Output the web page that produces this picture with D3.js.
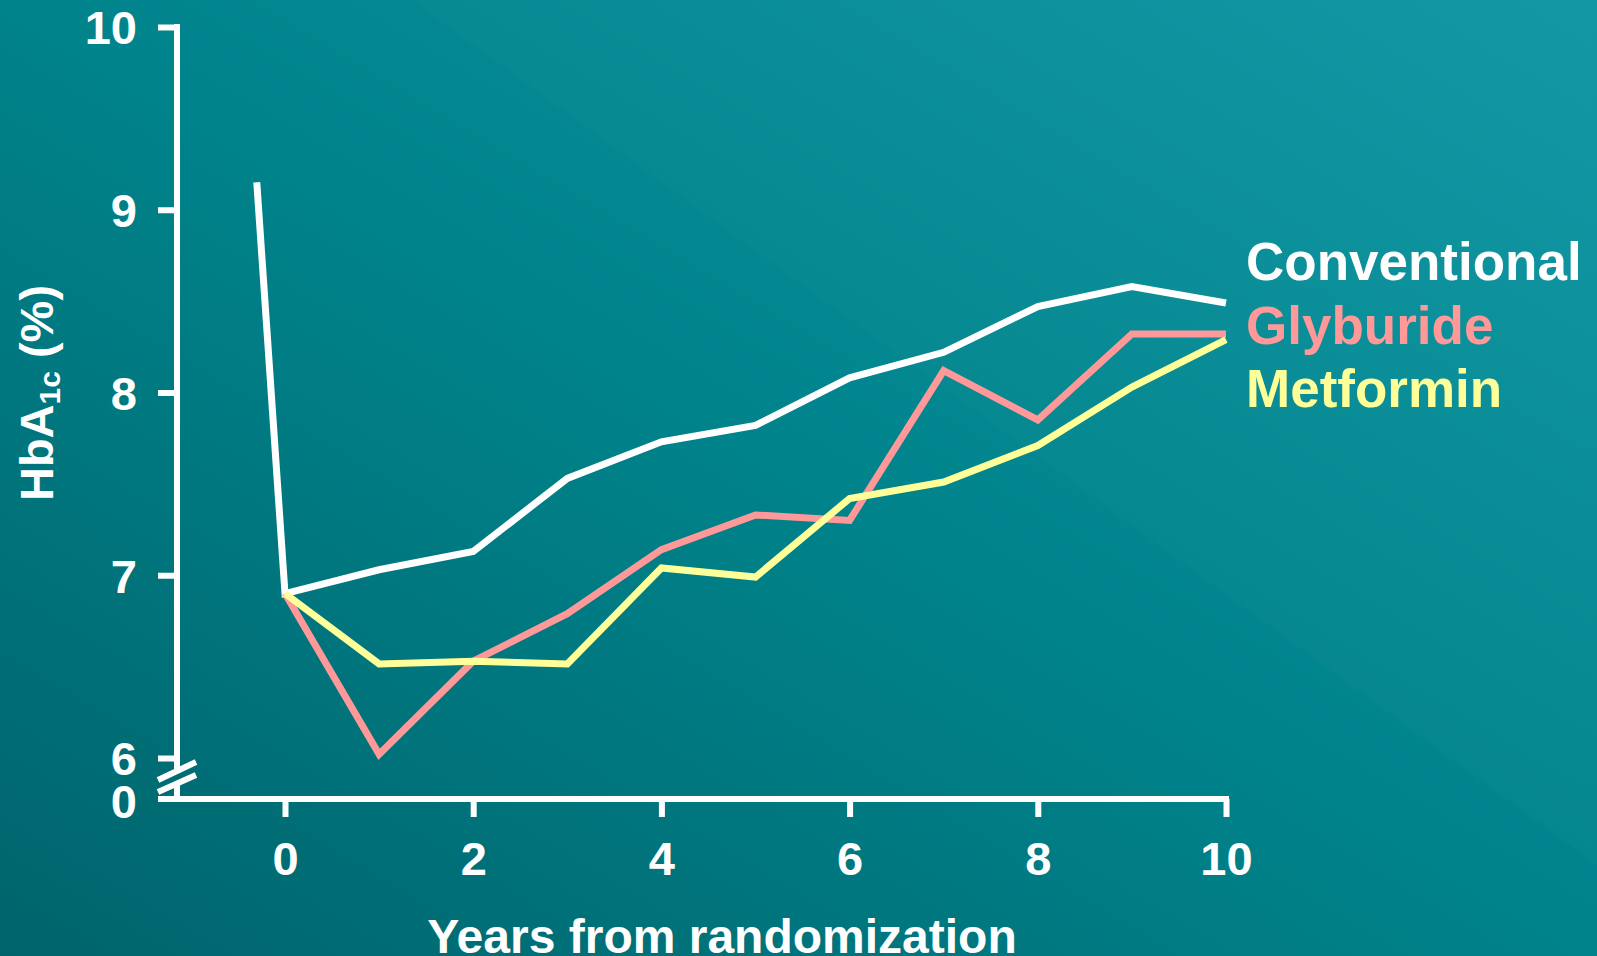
<!DOCTYPE html>
<html>
<head>
<meta charset="utf-8">
<script src="https://cdn.jsdelivr.net/npm/d3@7"></script>
<style>
  html, body { margin: 0; padding: 0; background: #007880; overflow: hidden; }
  svg { display: block; }
  text { font-family: "Liberation Sans", Arial, Helvetica, sans-serif; font-weight: bold; fill: #ffffff; }
</style>
</head>
<body>
<svg id="chart" width="1597" height="956"></svg>
<script>
// HbA1c over years from randomization, by treatment group
const conventionalYears = [-0.3, 0, 1, 2, 3, 4, 5, 6, 7, 8, 9, 10];
const conventionalValues = [9.15, 6.9, 7.03, 7.13, 7.53, 7.73, 7.82, 8.08, 8.22, 8.47, 8.58, 8.49];
const treatedYears = [0, 1, 2, 3, 4, 5, 6, 7, 8, 9, 10];
const glyburideValues = [6.9, 6.02, 6.53, 6.79, 7.14, 7.33, 7.30, 8.12, 7.85, 8.32, 8.32];
const metforminValues = [6.9, 6.515, 6.53, 6.515, 7.04, 6.99, 7.42, 7.51, 7.71, 8.03, 8.29];

const seriesNames = ["Conventional", "Glyburide", "Metformin"];
const seriesColors = ["#ffffff", "#ff9999", "#ffff99"];

const xTicks = [0, 2, 4, 6, 8, 10];
const yTicks = [6, 7, 8, 9, 10];
const yBreakLabel = "0";
const xTitle = "Years from randomization";

const W = 1597, H = 956;
const svg = d3.select("#chart");

// Background: diagonal teal gradient, lighter toward the upper right
const defs = svg.append("defs");
const bg = defs.append("linearGradient").attr("id", "bg")
  .attr("x1", "0").attr("y1", "1").attr("x2", "1").attr("y2", "0");
bg.append("stop").attr("offset", "0%").attr("stop-color", "#00646c");
bg.append("stop").attr("offset", "50%").attr("stop-color", "#00838b");
bg.append("stop").attr("offset", "100%").attr("stop-color", "#0e96a4");
svg.append("rect").attr("width", W).attr("height", H).attr("fill", "url(#bg)");

const sheen = defs.append("linearGradient").attr("id", "sheen")
  .attr("x1", "0").attr("y1", "1").attr("x2", "1").attr("y2", "0");
sheen.append("stop").attr("offset", "0%").attr("stop-color", "#ffffff").attr("stop-opacity", 0.012);
sheen.append("stop").attr("offset", "100%").attr("stop-color", "#ffffff").attr("stop-opacity", 0.02);
svg.append("polygon")
  .attr("points", `412,0 ${W},0 ${W},865`)
  .attr("fill", "url(#sheen)");

// Scales
const x = d3.scaleLinear().domain([0, 10]).range([285, 1226]);
const y = d3.scaleLinear().domain([6, 10]).range([758, 27]);
const axisX = 177;     // vertical axis position
const baseY = 799;     // horizontal axis (value 0 after the break)

const axisStroke = 6;
const tickFont = 47;

// X axis
const xAxis = d3.axisBottom(x).tickValues(xTicks).tickSize(18).tickPadding(0).tickFormat(d3.format("d"));
const gx = svg.append("g").attr("transform", `translate(0,${baseY})`).call(xAxis);
gx.select(".domain").remove();
gx.selectAll(".tick line").attr("stroke", "#fff").attr("stroke-width", axisStroke);
gx.selectAll(".tick text")
  .attr("y", 76).attr("dy", 0)
  .attr("font-size", tickFont).attr("fill", "#fff")
  .style("font-family", "'Liberation Sans', Arial, sans-serif").style("font-weight", "bold");
svg.append("line")
  .attr("x1", 158).attr("x2", x(10) + 3)
  .attr("y1", baseY).attr("y2", baseY)
  .attr("stroke", "#fff").attr("stroke-width", axisStroke);

// Y axis (6–10 above the break)
const yAxis = d3.axisLeft(y).tickValues(yTicks).tickSize(19).tickPadding(21).tickFormat(d3.format("d"));
const gy = svg.append("g").attr("transform", `translate(${axisX},0)`).call(yAxis);
gy.select(".domain").remove();
gy.selectAll(".tick line").attr("stroke", "#fff").attr("stroke-width", axisStroke);
gy.selectAll(".tick text")
  .attr("dy", "0.36em")
  .attr("font-size", tickFont).attr("fill", "#fff")
  .style("font-family", "'Liberation Sans', Arial, sans-serif").style("font-weight", "bold");

// Vertical axis line, interrupted at the break
svg.append("line")
  .attr("x1", axisX).attr("x2", axisX)
  .attr("y1", y(10) - 3).attr("y2", 771)
  .attr("stroke", "#fff").attr("stroke-width", axisStroke);
svg.append("line")
  .attr("x1", axisX).attr("x2", axisX)
  .attr("y1", 783).attr("y2", baseY)
  .attr("stroke", "#fff").attr("stroke-width", axisStroke);

// Break marks
[[780, 762], [792, 775]].forEach(([ya, yb]) => {
  svg.append("line")
    .attr("x1", 158).attr("y1", ya).attr("x2", 196).attr("y2", yb)
    .attr("stroke", "#fff").attr("stroke-width", axisStroke);
});

// "0" below the break
svg.append("line")
  .attr("x1", 158).attr("x2", axisX).attr("y1", baseY).attr("y2", baseY)
  .attr("stroke", "#fff").attr("stroke-width", axisStroke);
svg.append("text")
  .attr("x", 137).attr("y", baseY + 2).attr("dy", "0.36em")
  .attr("text-anchor", "end").attr("font-size", tickFont)
  .text(yBreakLabel);

// Axis titles
svg.append("text")
  .attr("x", 722).attr("y", 953)
  .attr("text-anchor", "middle").attr("font-size", 48)
  .text(xTitle);

const yTitle = svg.append("text")
  .attr("transform", "translate(53,393) rotate(-90)")
  .attr("text-anchor", "middle").attr("font-size", 47);
yTitle.append("tspan").text("HbA");
yTitle.append("tspan").attr("font-size", 30).attr("dy", 7).text("1c");
yTitle.append("tspan").attr("dy", -7).text(" (%)");

// Series lines
const line = d3.line().x(d => x(d[0])).y(d => y(d[1]));
const series = [
  d3.zip(conventionalYears, conventionalValues),
  d3.zip(treatedYears, glyburideValues),
  d3.zip(treatedYears, metforminValues)
];
series.forEach((pts, i) => {
  svg.append("path")
    .datum(pts)
    .attr("d", line)
    .attr("fill", "none")
    .attr("stroke", seriesColors[i])
    .attr("stroke-width", 7)
    .attr("stroke-linejoin", "miter")
    .attr("stroke-linecap", "butt");
});

// Series labels
seriesNames.forEach((name, i) => {
  svg.append("text")
    .attr("x", 1246).attr("y", 280 + i * 63.5)
    .attr("font-size", 53)
    .style("fill", seriesColors[i])
    .text(name);
});
</script>
</body>
</html>
